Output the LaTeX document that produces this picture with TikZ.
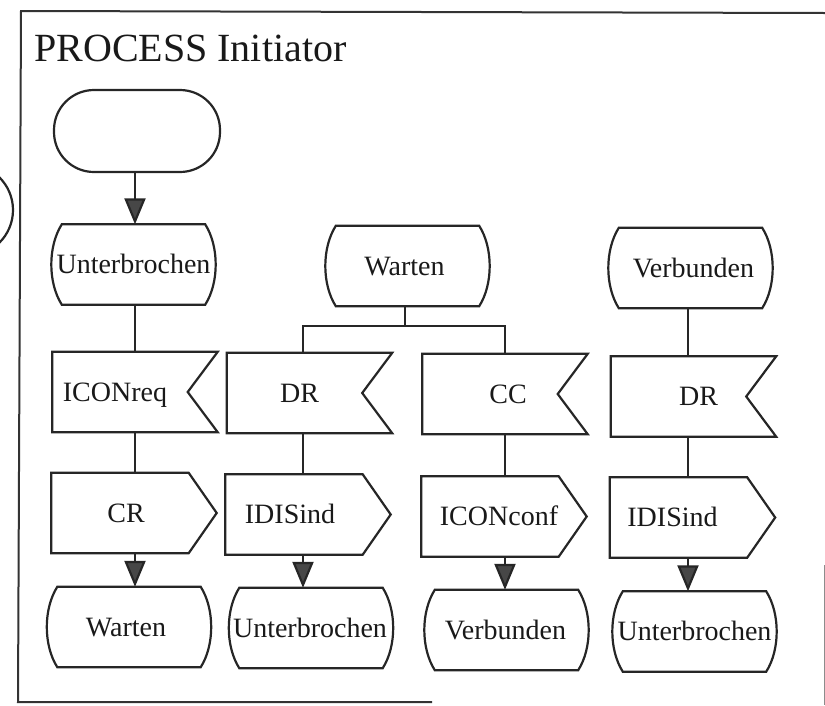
\documentclass[tikz,border=0pt]{standalone}
\usepackage{fontspec}
\setmainfont{Liberation Serif}
\usetikzlibrary{arrows.meta,calc}

\begin{document}
\begin{tikzpicture}[x=1pt, y=-1pt,
  ink/.style={draw=black!85, line width=2.2pt, line join=miter},
  sdlbox/.style={rectangle, inner sep=0pt, minimum width=165pt, minimum height=80pt},
  startbox/.style={ink, rectangle, rounded corners=40pt, inner sep=0pt, minimum width=166pt, minimum height=82pt},
  sdltext/.style={font=\fontsize{28}{28}\selectfont, text=black!90, inner sep=0pt, text height=18.5pt, text depth=0pt},
  flow/.style={ink, -{Triangle[width=21pt, length=26pt, fill=black!72]}},
  link/.style={ink}
]
\useasboundingbox (0,0) rectangle (825,705);

% frame and title
\draw[black!80, line width=2pt] (432,702) -- (18,702) -- (21,11) -- (825,13);
\draw[black!45, line width=1pt] (824,565) -- (824,705);
\node[anchor=base west, inner sep=0pt, text=black!90, font=\fontsize{40}{40}\selectfont] (title) at (34,61) {PROCESS Initiator};

% connector circle at the left border
\begin{scope}
  \clip (0,0) rectangle (825,705);
  \draw[ink] (-33,210) circle[radius=46pt];
\end{scope}

% stem positions of the four columns
\coordinate (c1) at (135,0);
\coordinate (c2) at (303,0);
\coordinate (c3) at (505,0);
\coordinate (c4) at (688,0);

% start symbol
\node[startbox] (start) at (137,131) {};

% column 1
\node[sdlbox, label={[sdltext]center:Unterbrochen}] (A1) at (133.5,264.5) {};
\node[sdlbox, label={[sdltext, xshift=-20pt]center:ICONreq}] (B1) at (135,392) {};
\node[sdlbox, label={[sdltext, xshift=-8pt]center:CR}] (C1) at (134,513) {};
\node[sdlbox, label={[sdltext, xshift=-3pt]center:Warten}] (D1) at (129,627) {};

% column 2
\node[sdlbox, label={[sdltext, xshift=-3pt]center:Warten}] (A2) at (407.5,266) {};
\node[sdlbox, label={[sdltext, xshift=-10pt]center:DR}] (B2) at (309.5,393) {};
\node[sdlbox, label={[sdltext, xshift=-18pt]center:IDISind}] (C2) at (308,514.5) {};
\node[sdlbox, label={[sdltext, xshift=-1pt]center:Unterbrochen}] (D2) at (311,628) {};

% column 3
\node[sdlbox, label={[sdltext, xshift=3pt]center:CC}] (B3) at (505,394) {};
\node[sdlbox, label={[sdltext, xshift=-5pt]center:ICONconf}] (C3) at (504,516.5) {};
\node[sdlbox, label={[sdltext, xshift=-1pt]center:Verbunden}] (D3) at (506.5,630) {};

% column 4
\node[sdlbox, label={[sdltext, xshift=3pt]center:Verbunden}] (A4) at (690.5,268) {};
\node[sdlbox, label={[sdltext, xshift=5pt]center:DR}] (B4) at (693.5,396.5) {};
\node[sdlbox, label={[sdltext, xshift=-20pt]center:IDISind}] (C4) at (692.5,517.5) {};
\node[sdlbox, label={[sdltext]center:Unterbrochen}] (D4) at (694.5,631.5) {};

% state symbols: straight top and bottom, bulging sides
\foreach \n in {A1,D1,A2,D2,D3,A4,D4}
  \draw[ink] ([xshift=11pt]\n.south west)
    .. controls +(-14,-22) and +(-14,22) .. ([xshift=11pt]\n.north west)
    -- ([xshift=-11pt]\n.north east)
    .. controls +(14,22) and +(14,-22) .. ([xshift=-11pt]\n.south east)
    -- cycle;

% input signals: notch on the right
\foreach \n in {B1,B2,B3,B4}
  \draw[ink] (\n.north west) -- (\n.north east) -- ([xshift=-30pt]\n.east)
    -- (\n.south east) -- (\n.south west) -- cycle;

% output signals: point on the right
\foreach \n in {C1,C2,C3,C4}
  \draw[ink] (\n.north west) -- ([xshift=-28pt]\n.north east) -- (\n.east)
    -- ([xshift=-28pt]\n.south east) -- (\n.south west) -- cycle;

% connectors, column 1
\draw[flow] (start.south -| c1) -- (A1.north -| c1);
\draw[link] (A1.south -| c1) -- (B1.north -| c1);
\draw[link] (B1.south -| c1) -- (C1.north -| c1);
\draw[flow] (C1.south -| c1) -- (D1.north -| c1);

% connectors, columns 2 and 3 (fork below Warten)
\coordinate (fork) at ($(A2.south)+(-2.5,20)$);
\draw[link] (A2.south -| fork) -- (fork);
\draw[link] (B2.north -| c2) |- (fork) -| (B3.north -| c3);
\draw[link] (B2.south -| c2) -- (C2.north -| c2);
\draw[flow] (C2.south -| c2) -- (D2.north -| c2);
\draw[link] (B3.south -| c3) -- (C3.north -| c3);
\draw[flow] (C3.south -| c3) -- (D3.north -| c3);

% connectors, column 4
\draw[link] (A4.south -| c4) -- (B4.north -| c4);
\draw[link] (B4.south -| c4) -- (C4.north -| c4);
\draw[flow] (C4.south -| c4) -- (D4.north -| c4);
\end{tikzpicture}
\end{document}
